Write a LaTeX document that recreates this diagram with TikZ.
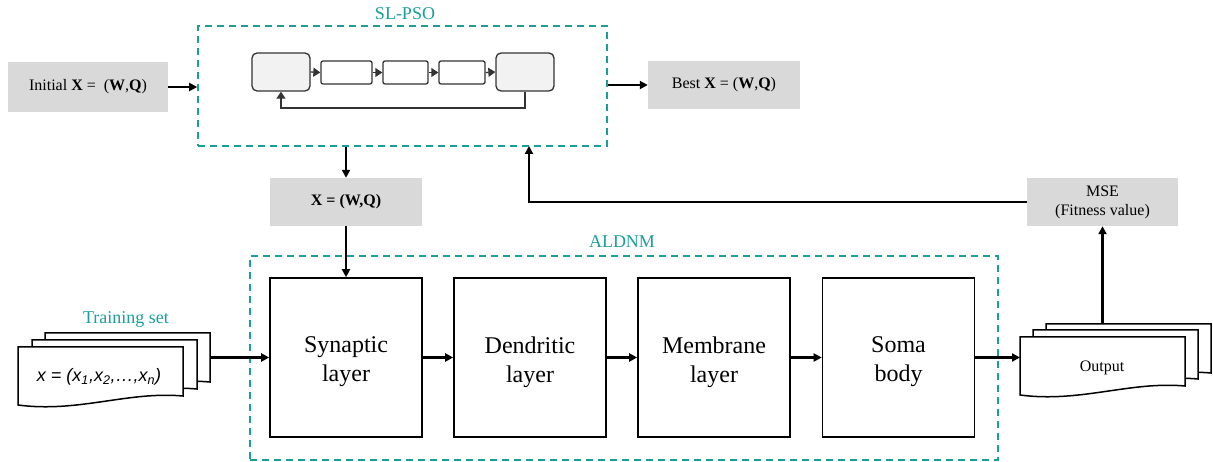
\documentclass[tikz,border=0pt]{standalone}
\usepackage{fontspec}
\setmainfont{Liberation Serif}
\newfontfamily\calfont{Liberation Sans}
\usetikzlibrary{arrows.meta}
\definecolor{tealc}{HTML}{1A9E9A}
\definecolor{boxgray}{HTML}{D9D9D9}
\definecolor{lightfill}{HTML}{F2F2F2}
\definecolor{dk}{HTML}{333333}
\begin{document}
\begin{tikzpicture}[x=1pt,y=-1pt,
  graybox/.style={fill=boxgray, minimum width=152pt, minimum height=48pt, inner sep=0pt, font=\fontsize{16}{19}\selectfont, align=center},
  layer/.style={draw, line width=1.6pt, minimum width=152pt, minimum height=159pt, inner sep=0pt},
  layertext/.style={font=\fontsize{24}{29}\selectfont, align=center, inner sep=0pt},
  frame/.style={draw=tealc, dash pattern=on 7pt off 5pt, line width=1.6pt, inner sep=0pt},
  framelab/.style={text=tealc, font=\fontsize{18}{21}\selectfont, inner sep=0pt},
  arr/.style={line width=2.3pt, -{Triangle[length=8pt,width=8pt]}},
  sarr/.style={line width=1.3pt, draw=dk, -{Triangle[length=7pt,width=9pt]}},
  rbox/.style={draw=dk, line width=1.3pt, fill=lightfill, rounded corners=5pt, minimum width=58pt, minimum height=38pt, inner sep=0pt},
  sbox/.style={draw=dk, line width=1.3pt, fill=white, rounded corners=2pt, minimum height=23pt, inner sep=0pt},
  doc/.pic={\draw[line width=1.5pt, fill=white] (0,0) -- (165,0) -- (165,49) .. controls (110,44) and (60,66) .. (0,58) -- cycle;}
]
\useasboundingbox (0,0) rectangle (1213,462);

% SL-PSO
\node[frame, minimum width=409pt, minimum height=120pt] (slpso) at (402.5,86) {};
\node[framelab] (slpsolab) at (405,14) {SL-PSO};
\node[rbox] (r1) at (281,72) {};
\node[sbox, minimum width=51pt] (s1) at (346.5,72.5) {};
\node[sbox, minimum width=45pt] (s2) at (405.5,72.5) {};
\node[sbox, minimum width=46pt] (s3) at (462,72.5) {};
\node[rbox] (r2) at (525,72) {};
\draw[sarr] (r1.east) -- (s1.west);
\draw[sarr] (s1.east) -- (s2.west);
\draw[sarr] (s2.east) -- (s3.west);
\draw[sarr] (s3.east) -- (r2.west);
\coordinate (fb) at (281,108);
\draw[sarr] (r2.south) |- (fb) -- (r1.south);

% top boxes
\node[graybox, minimum width=160pt, minimum height=50pt] (init) at (88,87) {Initial \textbf{X} =\ \ (\textbf{W},\textbf{Q})};
\node[graybox] (best) at (724,85) {Best \textbf{X} = (\textbf{W},\textbf{Q})};
\node[graybox] (xbox) at (346,202) {\textbf{X = (W,Q)}};
\node[graybox, minimum width=151pt] (mse) at (1102.5,202) {MSE\\(Fitness value)};

\draw[arr] (init.east) -- (init.east -| slpso.west);
\draw[arr] (slpso.east |- best.west) -- (best.west);
\draw[arr] (slpso.south -| xbox.north) -- (xbox.north);

% ALDNM
\node[frame, minimum width=748pt, minimum height=204pt] (aldnm) at (624,358) {};
\node[framelab] (aldnmlab) at (622,242) {ALDNM};
\node[layer] (syn) at (346,357.5) {};
\node[layer] (den) at (530,357.5) {};
\node[layer] (mem) at (714,357.5) {};
\node[layer] (soma) at (898.5,357.5) {};
\node[layertext] (syntext) at (346,362) {Synaptic\\layer};
\node[layertext] (dentext) at (530,362) {Dendritic\\layer};
\node[layertext] (memtext) at (714,362) {Membrane\\layer};
\node[layertext] (somatext) at (898.5,362) {Soma\\body};
\draw[arr] (xbox.south) -- (syn.north);
\draw[arr] (syn.east) -- (den.west);
\draw[arr] (den.east) -- (mem.west);
\draw[arr] (mem.east) -- (soma.west);

% training set
\pic at (45,333) {doc};
\pic at (32,340) {doc};
\pic at (18,347) {doc};
\coordinate (trainout) at (210,357.5);
\node[font=\calfont\itshape\fontsize{18}{21}\selectfont, inner sep=0pt] (train) at (99,377) {x = (x\textsubscript{1},x\textsubscript{2},…,x\textsubscript{n})};
\node[framelab] (trainlab) at (126,319) {Training set};
\draw[arr] (trainout) -- (syn.west);

% output
\pic at (1046,324) {doc};
\pic at (1033,330) {doc};
\pic at (1020,337) {doc};
\coordinate (outin) at (1020,357.5);
\coordinate (outtop) at (1102.5,324);
\node[font=\fontsize{16}{19}\selectfont, inner sep=0pt] (output) at (1102,368) {Output};
\draw[arr] (soma.east) -- (outin);
\draw[arr] (outtop) -- (mse.south);

% feedback
\coordinate (fbtop) at (529,146);
\draw[arr] (mse.west) -| (fbtop);
\end{tikzpicture}
\end{document}
